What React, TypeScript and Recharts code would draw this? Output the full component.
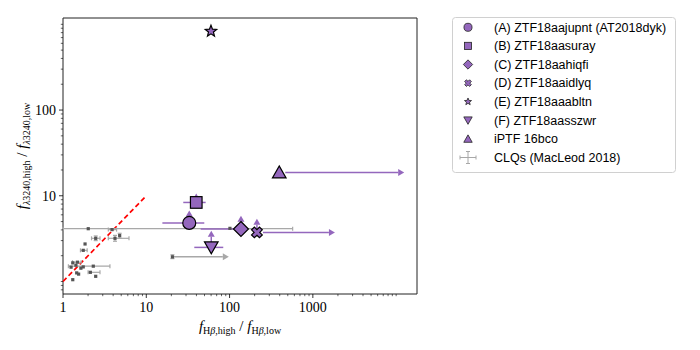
import React from "react";
import { ScatterChart, Scatter, XAxis, YAxis, ErrorBar, ReferenceLine, ReferenceArea, Legend } from "recharts";

const PURPLE = "#9467bd";
const CLQ_LINE = "#a8a8a8";
const CLQ_DOT = "#555555";

const X_DOMAIN = [1, 17800];
const Y_DOMAIN = [0.715, 1185];

const xMajorTicks = [1, 10, 100, 1000];
const xMinorTicks = [2, 3, 4, 5, 6, 7, 8, 9, 20, 30, 40, 50, 60, 70, 80, 90, 200, 300, 400, 500, 600, 700, 800, 900, 2000, 3000, 4000, 5000, 6000, 7000, 8000, 9000, 10000];
const yMajorTicks = [10, 100];
const yMinorTicks = [0.8, 0.9, 1, 2, 3, 4, 5, 6, 7, 8, 9, 20, 30, 40, 50, 60, 70, 80, 90, 200, 300, 400, 500, 600, 700, 800, 900, 1000];

// ZTF nuclear transients + iPTF 16bco
const objNames = [
  "(A) ZTF18aajupnt (AT2018dyk)",
  "(B) ZTF18aasuray",
  "(C) ZTF18aahiqfi",
  "(D) ZTF18aaidlyq",
  "(E) ZTF18aaabltn",
  "(F) ZTF18aasszwr",
  "iPTF 16bco",
];
const objMarkers = ["circle", "square", "diamond", "xfilled", "star", "triDown", "triUp"];
const objX = [32.8, 39.8, 137, 213, 59.8, 60.3, 395];
const objY = [4.82, 8.36, 4.1, 3.74, 830, 2.5, 18.7];
const objXLow = [15.6, 27.8, 45, null, 54.4, 37.7, null];
const objXHigh = [49.7, 51.6, 150, null, 66.6, 84, null];
const objXArrowTo = [null, null, null, 1840, null, null, 12500];
const objYArrowTo = [6.75, 10.6, 5.85, 5.4, null, 3.92, 21.9];

// CLQs (MacLeod 2018)
const clqX = [2.01, 101, 3.88, 2.47, 4.21, 4.79, 1.84, 1.75, 2.31, 1.31, 1.49, 1.43, 1.25, 1.75, 1.64, 1.46, 1.54, 2.13, 2.47, 1.31, 20.6];
const clqY = [4.13, 4.17, 4.03, 3.19, 3.19, 3.43, 2.74, 2.31, 1.51, 1.65, 1.68, 1.55, 1.47, 1.48, 1.43, 1.26, 1.22, 1.28, 1.15, 1.05, 1.94];
const clqXLow = [1, null, 3.5, 2.2, 3.5, null, null, 1.62, 1.16, null, 1.3, null, null, null, null, null, null, 2.0, null, null, null];
const clqXHigh = [572, null, 4.4, 2.78, 6.2, null, null, 1.95, 3.66, null, 1.65, null, null, null, null, null, null, 2.78, null, null, null];
const clqYLow = [null, null, null, 3.0, 2.95, 3.2, null, null, null, null, null, null, null, null, null, null, null, null, null, null, 1.85];
const clqYHigh = [null, null, null, 3.4, 3.45, 3.65, null, null, null, null, null, null, null, null, null, null, null, null, null, null, 2.05];
const clqXArrowTo = [null, null, null, null, null, null, null, null, null, null, null, null, null, null, null, null, null, null, null, null, 98];

// one-to-one line
const oneToOneX = [1, 10];

const objData = objX.map((x, i) => ({
  x,
  y: objY[i],
  marker: objMarkers[i],
  xErr: objXLow[i] != null ? [x - (objXLow[i] as number), (objXHigh[i] as number) - x] : undefined,
}));

const clqData = clqX.map((x, i) => ({
  x,
  y: clqY[i],
  xErr: clqXLow[i] != null ? [x - (clqXLow[i] as number), (clqXHigh[i] as number) - x] : undefined,
  yErr: clqYLow[i] != null ? [clqY[i] - (clqYLow[i] as number), (clqYHigh[i] as number) - clqY[i]] : undefined,
}));

type Arrow = { x1: number; y1: number; x2: number; y2: number; color: string; gap: number };
const arrows: Arrow[] = [];
objX.forEach((x, i) => {
  const yTo = objYArrowTo[i];
  if (yTo != null) arrows.push({ x1: x, y1: objY[i], x2: x, y2: yTo, color: PURPLE, gap: 4 });
  const xTo = objXArrowTo[i];
  if (xTo != null) arrows.push({ x1: x, y1: objY[i], x2: xTo, y2: objY[i], color: PURPLE, gap: 6 });
});
clqX.forEach((x, i) => {
  const xTo = clqXArrowTo[i];
  if (xTo != null) arrows.push({ x1: x, y1: clqY[i], x2: xTo, y2: clqY[i], color: CLQ_LINE, gap: 1 });
});

const starPoints = (cx: number, cy: number, ro: number, ri: number) => {
  const pts: string[] = [];
  for (let k = 0; k < 10; k++) {
    const r = k % 2 === 0 ? ro : ri;
    const a = -Math.PI / 2 + (k * Math.PI) / 5;
    pts.push(`${cx + r * Math.cos(a)},${cy + r * Math.sin(a)}`);
  }
  return pts.join(" ");
};

const xPoints = (cx: number, cy: number, r: number, w: number) => {
  // plus sign rotated by 45 degrees
  const base = [
    [w, w], [r, w], [r, -w], [w, -w], [w, -r], [-w, -r],
    [-w, -w], [-r, -w], [-r, w], [-w, w], [-w, r], [w, r],
  ];
  const c = Math.SQRT1_2;
  return base
    .map(([px, py]) => `${cx + (px - py) * c},${cy + (px + py) * c}`)
    .join(" ");
};

const Glyph = ({ kind, cx, cy, k, fill, stroke, sw }: any) => {
  const p = { fill, stroke, strokeWidth: sw };
  switch (kind) {
    case "circle":
      return <circle cx={cx} cy={cy} r={6.5 * k} {...p} />;
    case "square":
      return <rect x={cx - 5.8 * k} y={cy - 5.8 * k} width={11.6 * k} height={11.6 * k} {...p} />;
    case "diamond":
      return <polygon points={`${cx},${cy - 7.5 * k} ${cx + 7.5 * k},${cy} ${cx},${cy + 7.5 * k} ${cx - 7.5 * k},${cy}`} {...p} />;
    case "xfilled":
      return <polygon points={xPoints(cx, cy, 5.6 * k, 2 * k)} {...p} />;
    case "star":
      return <polygon points={starPoints(cx, cy, 6 * k, 2.6 * k)} {...p} />;
    case "triDown":
      return <polygon points={`${cx - 6.8 * k},${cy - 5.5 * k} ${cx + 6.8 * k},${cy - 5.5 * k} ${cx},${cy + 6.5 * k}`} {...p} />;
    case "triUp":
      return <polygon points={`${cx - 6.8 * k},${cy + 5.5 * k} ${cx + 6.8 * k},${cy + 5.5 * k} ${cx},${cy - 6.5 * k}`} {...p} />;
    default:
      return null;
  }
};

const ObjShape = (props: any) => {
  const { cx, cy, payload } = props;
  if (cx == null || cy == null) return null;
  return <Glyph kind={payload.marker} cx={cx} cy={cy} k={1} fill={PURPLE} stroke="#000" sw={1.2} />;
};

const ClqShape = (props: any) => {
  const { cx, cy } = props;
  if (cx == null || cy == null) return null;
  return <rect x={cx - 1.6} y={cy - 1.6} width={3.2} height={3.2} fill={CLQ_DOT} />;
};

const makeArrowShape = (color: string, gap: number) => (props: any) => {
  const { x1, y1, x2, y2 } = props;
  const dx = x2 - x1;
  const dy = y2 - y1;
  const len = Math.hypot(dx, dy) || 1;
  const ux = dx / len;
  const uy = dy / len;
  const hl = 6;
  const hw = 3.5;
  const bx = x2 - ux * hl;
  const by = y2 - uy * hl;
  const sx = x1 + ux * gap;
  const sy = y1 + uy * gap;
  const nx = -uy;
  const ny = ux;
  return (
    <g>
      {len > gap + hl && <line x1={sx} y1={sy} x2={bx} y2={by} stroke={color} strokeWidth={1.5} />}
      <polygon points={`${x2},${y2} ${bx + nx * hw},${by + ny * hw} ${bx - nx * hw},${by - ny * hw}`} fill={color} />
    </g>
  );
};

// tick marks drawn by hand so that major and minor ticks share one axis
const X_TICK_SIZE = 4;
const X_TICK_MARGIN = 4;
const Y_TICK_SIZE = 4;
const Y_TICK_MARGIN = 3;

const XTick = (props: any) => {
  const { x, y, payload } = props;
  const v = payload.value;
  const major = xMajorTicks.includes(v);
  const axisY = y - X_TICK_SIZE - X_TICK_MARGIN;
  return (
    <g>
      <line x1={x} y1={axisY} x2={x} y2={axisY + (major ? 4 : 2.2)} stroke="#000" strokeWidth={major ? 0.8 : 0.6} />
      {major && (
        <text x={x} y={y} dy="0.71em" textAnchor="middle" fontFamily="Liberation Serif" fontSize={14} fill="#000">
          {String(v)}
        </text>
      )}
    </g>
  );
};

const YTick = (props: any) => {
  const { x, y, payload } = props;
  const v = payload.value;
  const major = yMajorTicks.includes(v);
  const axisX = x + Y_TICK_SIZE + Y_TICK_MARGIN;
  return (
    <g>
      <line x1={axisX} y1={y} x2={axisX - (major ? 4 : 2.2)} y2={y} stroke="#000" strokeWidth={major ? 0.8 : 0.6} />
      {major && (
        <text x={x} y={y} dy="0.355em" textAnchor="end" fontFamily="Liberation Serif" fontSize={14} fill="#000">
          {String(v)}
        </text>
      )}
    </g>
  );
};

const XLabel = (props: any) => {
  const vb = props.viewBox || {};
  const cx = vb.x + vb.width / 2;
  const y = vb.y + 37;
  return (
    <text x={cx} y={y} textAnchor="middle" fontFamily="Liberation Serif" fontSize={15} fill="#000">
      <tspan fontStyle="italic">f</tspan>
      <tspan fontSize={10} dy={3}>H</tspan>
      <tspan fontSize={10} fontStyle="italic">β</tspan>
      <tspan fontSize={10}>,high</tspan>
      <tspan dy={-3}> / </tspan>
      <tspan fontStyle="italic">f</tspan>
      <tspan fontSize={10} dy={3}>H</tspan>
      <tspan fontSize={10} fontStyle="italic">β</tspan>
      <tspan fontSize={10}>,low</tspan>
    </text>
  );
};

const YLabel = (props: any) => {
  const vb = props.viewBox || {};
  const cy = vb.y + vb.height / 2;
  const x = 27;
  return (
    <text x={x} y={cy} transform={`rotate(-90 ${x} ${cy})`} textAnchor="middle" fontFamily="Liberation Serif" fontSize={15} fill="#000">
      <tspan fontStyle="italic">f</tspan>
      <tspan fontSize={10} dy={3} fontStyle="italic">λ</tspan>
      <tspan fontSize={10}>3240,high</tspan>
      <tspan dy={-3}> / </tspan>
      <tspan fontStyle="italic">f</tspan>
      <tspan fontSize={10} dy={3} fontStyle="italic">λ</tspan>
      <tspan fontSize={10}>3240,low</tspan>
    </text>
  );
};

const LegendBox = () => {
  const rowH = 18.6;
  const top = 10.3;
  return (
    <svg width={224} height={156} style={{ display: "block" }}>
      <rect x={0.5} y={0.5} width={223} height={155} rx={3} fill="#fff" stroke="#d0d0d0" />
      {objNames.map((name, i) => (
        <g key={name}>
          <Glyph kind={objMarkers[i]} cx={16} cy={top + rowH * i} k={0.62} fill={PURPLE} stroke="#222" sw={0.8} />
          <text x={42} y={top + rowH * i + 4.3} fontFamily="Liberation Sans" fontSize={12.5} fill="#000">
            {name}
          </text>
        </g>
      ))}
      <g stroke={CLQ_LINE} strokeWidth={1}>
        <line x1={8} y1={top + rowH * 7} x2={24} y2={top + rowH * 7} />
        <line x1={16} y1={top + rowH * 7 - 6} x2={16} y2={top + rowH * 7 + 6} />
        <line x1={8} y1={top + rowH * 7 - 2} x2={8} y2={top + rowH * 7 + 2} />
        <line x1={24} y1={top + rowH * 7 - 2} x2={24} y2={top + rowH * 7 + 2} />
        <line x1={14} y1={top + rowH * 7 - 6} x2={18} y2={top + rowH * 7 - 6} />
        <line x1={14} y1={top + rowH * 7 + 6} x2={18} y2={top + rowH * 7 + 6} />
      </g>
      <text x={42} y={top + rowH * 7 + 4.3} fontFamily="Liberation Sans" fontSize={12.5} fill="#000">
        CLQs (MacLeod 2018)
      </text>
    </svg>
  );
};

export default function App() {
  return (
    <div style={{ position: "absolute", left: 0, top: 0, background: "#fff" }}>
      <ScatterChart width={700} height={350} margin={{ top: 18, right: 283, bottom: 26, left: 23 }}>
        <XAxis
          xAxisId="x"
          type="number"
          dataKey="x"
          scale="log"
          domain={X_DOMAIN}
          allowDataOverflow
          ticks={[...xMajorTicks, ...xMinorTicks]}
          interval={0}
          tick={<XTick />}
          tickSize={X_TICK_SIZE}
          tickMargin={X_TICK_MARGIN}
          height={30}
          axisLine={false}
          tickLine={false}
          label={<XLabel />}
        />
        <YAxis
          yAxisId="y"
          type="number"
          dataKey="y"
          scale="log"
          domain={Y_DOMAIN}
          allowDataOverflow
          ticks={[...yMajorTicks, ...yMinorTicks]}
          interval={0}
          tick={<YTick />}
          tickSize={Y_TICK_SIZE}
          tickMargin={Y_TICK_MARGIN}
          width={40}
          axisLine={false}
          tickLine={false}
          label={<YLabel />}
        />
        <ReferenceLine
          xAxisId="x"
          yAxisId="y"
          segment={[
            { x: oneToOneX[0], y: oneToOneX[0] },
            { x: oneToOneX[1], y: oneToOneX[1] },
          ]}
          stroke="#ff0000"
          strokeWidth={1.7}
          strokeDasharray="5 3"
        />
        <Scatter name="CLQs" data={clqData} xAxisId="x" yAxisId="y" shape={ClqShape} isAnimationActive={false}>
          <ErrorBar dataKey="xErr" direction="x" width={2} stroke={CLQ_LINE} strokeWidth={1.2} isAnimationActive={false} />
          <ErrorBar dataKey="yErr" direction="y" width={2} stroke={CLQ_LINE} strokeWidth={1.2} isAnimationActive={false} />
        </Scatter>
        {arrows.map((a, i) => (
          <ReferenceLine
            key={`arrow-${i}`}
            xAxisId="x"
            yAxisId="y"
            segment={[
              { x: a.x1, y: a.y1 },
              { x: a.x2, y: a.y2 },
            ]}
            stroke={a.color}
            ifOverflow="visible"
            shape={makeArrowShape(a.color, a.gap)}
          />
        ))}
        <Scatter name="objects" data={objData} xAxisId="x" yAxisId="y" shape={ObjShape} isAnimationActive={false}>
          <ErrorBar dataKey="xErr" direction="x" width={0} stroke={PURPLE} strokeWidth={1.5} isAnimationActive={false} />
        </Scatter>
        <ReferenceArea
          xAxisId="x"
          yAxisId="y"
          x1={X_DOMAIN[0]}
          x2={X_DOMAIN[1]}
          y1={Y_DOMAIN[0]}
          y2={Y_DOMAIN[1]}
          fill="none"
          fillOpacity={0}
          stroke="#222"
          strokeWidth={1}
        />
        <Legend
          layout="horizontal"
          verticalAlign="middle"
          align="center"
          content={<LegendBox />}
          wrapperStyle={{ left: 452, top: 17, width: 224, height: 156 }}
        />
      </ScatterChart>
    </div>
  );
}
